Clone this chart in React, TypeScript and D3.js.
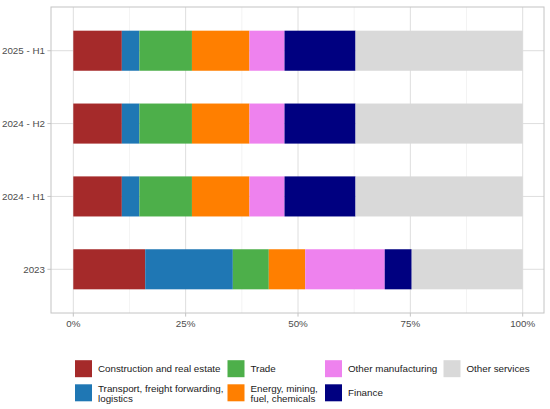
import React from "react";
import * as d3 from "d3";

const categories = ["2025 - H1", "2024 - H2", "2024 - H1", "2023"];
const sectors = [
  "Construction and real estate",
  "Transport, freight forwarding, logistics",
  "Trade",
  "Energy, mining, fuel, chemicals",
  "Other manufacturing",
  "Finance",
  "Other services",
];
const legendLabels = [
  ["Construction and real estate"],
  ["Transport, freight forwarding,", "logistics"],
  ["Trade"],
  ["Energy, mining,", "fuel, chemicals"],
  ["Other manufacturing"],
  ["Finance"],
  ["Other services"],
];
const colors = ["#A52A2A", "#1F77B4", "#4DAF4A", "#FF7F00", "#EE82EE", "#000080", "#D9D9D9"];

// shares (%) per category, in order of categories
const construction = [10.8, 10.8, 10.8, 16.0];
const transport = [3.9, 3.9, 3.9, 19.5];
const trade = [11.7, 11.7, 11.7, 8.0];
const energy = [12.8, 12.8, 12.8, 8.1];
const otherManufacturing = [7.8, 7.8, 7.8, 17.7];
const finance = [15.8, 15.8, 15.8, 6.0];
const otherServices = [37.2, 37.2, 37.2, 24.7];

const seriesValues = [construction, transport, trade, energy, otherManufacturing, finance, otherServices];
const xTicks = [0, 0.25, 0.5, 0.75, 1];
const xMinor = [0.125, 0.375, 0.625, 0.875];

const W = 550;
const H = 409;
const panel = { left: 51, right: 544, top: 7, bottom: 313 };
const FONT = "'Liberation Sans', Arial, sans-serif";
const FS = 9.8;
const TEXT = "#4D4D4D";

export default function App() {
  const rows = categories.map((c, i) => {
    const r: Record<string, any> = { cat: c };
    sectors.forEach((s, j) => (r[s] = seriesValues[j][i]));
    return r;
  });
  const stacked = d3.stack<any>().keys(sectors).offset(d3.stackOffsetExpand)(rows);

  const x = d3.scaleLinear().domain([0, 1]).range([73.3, 522.7]);
  const y = d3.scalePoint<string>().domain(categories).range([panel.top, panel.bottom]).padding(0.6);
  const step = y.step();
  const barH = step * 0.55;
  const fmt = d3.format(".0%");

  const legendCols = [75, 227.5, 325, 443.5];
  const legendRows = [360.2, 384.3];
  const keySize = 17;

  return (
    <div style={{ position: "fixed", left: 0, top: 0 }}>
      <svg width={W} height={H} style={{ display: "block", background: "#fff" }} fontFamily={FONT}>
        <rect x={0} y={0} width={W} height={H} fill="#fff" />
        {/* minor grid */}
        {xMinor.map((t) => (
          <line key={"m" + t} x1={x(t)} x2={x(t)} y1={panel.top} y2={panel.bottom} stroke="#EBEBEB" strokeWidth={0.6} />
        ))}
        {xTicks.map((t) => (
          <line key={"g" + t} x1={x(t)} x2={x(t)} y1={panel.top} y2={panel.bottom} stroke="#DEDEDE" strokeWidth={1} />
        ))}
        {categories.map((c) => (
          <line key={"h" + c} x1={panel.left} x2={panel.right} y1={y(c)} y2={y(c)} stroke="#DEDEDE" strokeWidth={1} />
        ))}
        {/* bars */}
        {stacked.map((s, j) => (
          <g key={s.key} fill={colors[j]}>
            {s.map((d, i) => (
              <rect
                key={i}
                x={x(d[0])}
                width={x(d[1]) - x(d[0])}
                y={(y(categories[i]) as number) - barH / 2}
                height={barH}
              />
            ))}
          </g>
        ))}
        {/* panel border */}
        <rect
          x={panel.left}
          y={panel.top}
          width={panel.right - panel.left}
          height={panel.bottom - panel.top}
          fill="none"
          stroke="#C4C4C4"
          strokeWidth={1}
        />
        {/* y axis */}
        {categories.map((c) => (
          <g key={"y" + c}>
            <line x1={panel.left - 3.6} x2={panel.left} y1={y(c)} y2={y(c)} stroke="#C4C4C4" strokeWidth={1} />
            <text x={panel.left - 6} y={y(c)} dy="0.35em" textAnchor="end" fontSize={FS} fill={TEXT}>
              {c}
            </text>
          </g>
        ))}
        {/* x axis */}
        {xTicks.map((t) => (
          <g key={"x" + t}>
            <line x1={x(t)} x2={x(t)} y1={panel.bottom} y2={panel.bottom + 3.6} stroke="#C4C4C4" strokeWidth={1} />
            <text x={x(t)} y={panel.bottom + 10.5} dy="0.35em" textAnchor="middle" fontSize={FS} fill={TEXT}>
              {fmt(t)}
            </text>
          </g>
        ))}
        {/* legend */}
        {sectors.map((s, j) => {
          const col = Math.floor(j / 2);
          const row = j % 2;
          const kx = legendCols[col];
          const ky = legendRows[row];
          const lines = legendLabels[j];
          const cy = ky + keySize / 2 + (lines.length > 1 ? 1 : 0);
          const lh = 9.8;
          return (
            <g key={"l" + s}>
              <rect x={kx} y={ky} width={keySize} height={keySize} fill={colors[j]} />
              <text x={kx + keySize + 6} fontSize={FS} fill="#1A1A1A">
                {lines.map((ln, k) => (
                  <tspan key={k} x={kx + keySize + 6} y={cy + (k - (lines.length - 1) / 2) * lh} dy="0.35em">
                    {ln}
                  </tspan>
                ))}
              </text>
            </g>
          );
        })}
      </svg>
    </div>
  );
}
